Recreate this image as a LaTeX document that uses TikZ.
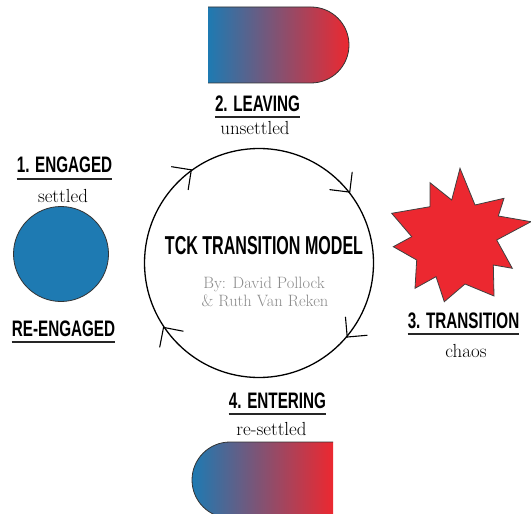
\documentclass[tikz,border=0pt]{standalone}
\usepackage{fontspec}
\newfontfamily\headfont[FakeStretch=0.68]{Liberation Sans}
\newfontfamily\titlefont[FakeStretch=0.62]{Liberation Sans}
\definecolor{tckblue}{RGB}{30,122,178}
\definecolor{tckred}{RGB}{236,40,48}
\definecolor{tckgray}{RGB}{138,138,138}
\tikzset{
  head/.style={font=\headfont\bfseries\fontsize{22.5}{24}\selectfont, inner sep=0, anchor=base},
  sub/.style={font=\fontsize{19}{21}\selectfont, inner sep=0, anchor=base},
  byline/.style={font=\fontsize{16.5}{18}\selectfont, text=tckgray, inner sep=0, anchor=base},
  uline/.style={line width=2bp, black!85},
  outl/.style={draw=black!80, line width=0.8bp},
  barb/.style={line width=1.1bp, line cap=round},
}
\begin{document}
\begin{tikzpicture}[x=1bp, y=-1bp]
\useasboundingbox (0,0) rectangle (531,514);

% central cycle
\node[circle, draw, line width=1.3bp, minimum size=229bp, inner sep=0] (cyc) at (259,263) {};
\node[font=\titlefont\bfseries\fontsize{26}{28}\selectfont, inner sep=0, anchor=base] (title) at (264,254) {TCK TRANSITION MODEL};
\node[byline] (by1) at (264,288) {By: David Pollock};
\node[byline] (by2) at (265,306) {\& Ruth Van Reken};

% arrowheads on the cycle (clockwise)
\foreach \a in {126,38,-40,214}{
  \draw[barb] (cyc.\a) -- ++({\a+45}:20bp);
  \draw[barb] (cyc.\a) -- ++({\a+135}:20bp);
}

% 1. engaged
\node[head] (h1) at (64.5,172.5) {1. ENGAGED};
\draw[uline] ([yshift=-7bp]h1.base west) -- ([yshift=-7bp]h1.base east);
\node[sub] (s1) at (63,202.5) {settled};
\node[circle, fill=tckblue, draw=black!80, line width=0.8bp, minimum size=95bp, inner sep=0] (disc) at (61,254) {};
\node[head] (h5) at (63.5,336) {RE-ENGAGED};
\draw[uline] ([yshift=-6bp]h5.base west) -- ([yshift=-6bp]h5.base east);

% 2. leaving
\shade[left color=tckblue, right color=tckred] (208,7) -- (311,7) arc[start angle=90, end angle=-90, radius=38bp] -- (208,83) -- cycle;
\draw[outl] (208,7) -- (311,7) arc[start angle=90, end angle=-90, radius=38bp] -- (208,83);
\node[head] (h2) at (257.5,112) {2. LEAVING};
\draw[uline] ([yshift=-5.5bp]h2.base west) -- ([yshift=-5.5bp]h2.base east);
\node[sub] (s2) at (255,134.5) {unsettled};

% 3. transition
\filldraw[fill=tckred, draw=black!75, line width=0.8bp]
  (460,168.3) -- (475,205) -- (504,198.3) -- (498.3,216) -- (531,221.7) -- (496.7,240)
  -- (512.3,268.3) -- (493.3,265) -- (494,296) -- (465,284) -- (444.3,301.7) -- (436,276.7)
  -- (415,288.3) -- (416.7,260) -- (393.3,246.7) -- (411.7,236.7) -- (391.7,213.3)
  -- (430,206.7) -- (430,182.7) -- (451.7,200) -- cycle;
\node[head] (h3) at (463.5,328) {3. TRANSITION};
\draw[uline] ([yshift=-6bp]h3.base west) -- ([yshift=-6bp]h3.base east);
\node[sub] (s3) at (466,357) {chaos};

% 4. entering
\node[head] (h4) at (277.5,408) {4. ENTERING};
\draw[uline] ([yshift=-5.5bp]h4.base west) -- ([yshift=-5.5bp]h4.base east);
\node[sub] (s4) at (271.5,435.5) {re-settled};
\shade[left color=tckblue, right color=tckred] (333,442) -- (230,442) arc[start angle=90, end angle=270, radius=38bp] -- (333,518) -- cycle;
\draw[outl] (333,442) -- (230,442) arc[start angle=90, end angle=270, radius=38bp] -- (333,518);
\end{tikzpicture}
\end{document}
